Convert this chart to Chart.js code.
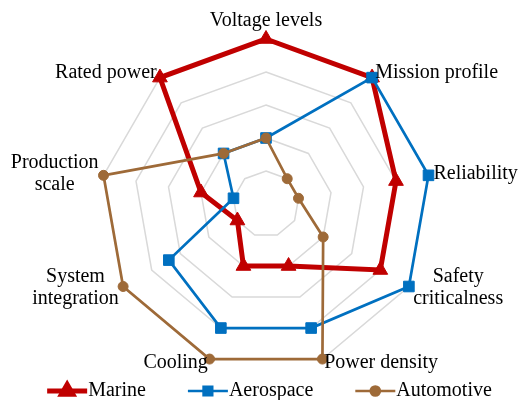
<!DOCTYPE html>
<html><head><meta charset="utf-8">
<script src="https://cdn.jsdelivr.net/npm/chart.js@4/dist/chart.umd.min.js"></script>
<style>html,body{margin:0;padding:0;background:#fff}#wrap{width:522px;height:400px}</style>
</head><body><div id="wrap"><canvas id="c" width="522" height="400"></canvas></div>
<script>
const categories = ['Voltage levels', 'Mission profile', 'Reliability', ['Safety', 'criticalness'], 'Power density', 'Cooling', ['System', 'integration'], ['Production', 'scale'], 'Rated power'];
const marine = [5, 5, 4, 4, 2, 2, 1, 2, 5];
const aerospace = [2, 5, 5, 5, 4, 4, 3.4, 1, 2];
const automotive = [2, 1, 1, 2, 5, 5, 5, 5, 2];
const seriesNames = ['Marine', 'Aerospace', 'Automotive'];
const scaleMin = 0, scaleMax = 5, scaleStep = 1;

const FONT = '20px "Liberation Serif", "Times New Roman", serif';

const axisLabelPlugin = {
  id: 'axisLabels',
  afterDraw(chart) {
    const s = chart.scales.r, ctx = chart.ctx;
    ctx.save();
    ctx.font = FONT; ctx.fillStyle = '#000'; ctx.textBaseline = 'middle'; ctx.textAlign = 'center';
    const lh = 22;
    chart.data.labels.forEach((lab, i) => {
      const lines = Array.isArray(lab) ? lab : [lab];
      const p = s.getPointPosition(i, s.drawingArea + 5);
      const deg = ((s.getIndexAngle(i) * 180 / Math.PI) % 360 + 360) % 360;
      const maxW = Math.max(...lines.map(l => ctx.measureText(l).width));
      let cx, cy;
      if (deg < 1 || deg > 359) { cx = p.x; cy = p.y - 13 - (lines.length - 1) * lh / 2; }
      else if (Math.abs(deg - 180) < 1) { cx = p.x; cy = p.y + 13 + (lines.length - 1) * lh / 2; }
      else if (deg < 180) { cx = p.x + maxW / 2; cy = p.y - 1; }
      else { cx = p.x - maxW / 2; cy = p.y - 1; }
      lines.forEach((l, k) => ctx.fillText(l, cx, cy + (k - (lines.length - 1) / 2) * lh));
    });
    ctx.restore();
  }
};

const legendPlugin = {
  id: 'lineLegend',
  afterDraw(chart) {
    const ctx = chart.ctx;
    ctx.save();
    ctx.font = FONT; ctx.textBaseline = 'middle'; ctx.textAlign = 'left';
    const ds = chart.data.datasets;
    const lineLen = 40, textGap = 1, itemGap = 42;
    const widths = ds.map(d => ctx.measureText(d.label).width);
    const total = widths.reduce((a, w) => a + lineLen + textGap + w, 0) + itemGap * (ds.length - 1);
    let x = chart.width / 2 + 8.5 - total / 2;
    const y = 391;
    ds.forEach((d, i) => {
      ctx.strokeStyle = d.borderColor; ctx.lineWidth = d.borderWidth;
      ctx.beginPath(); ctx.moveTo(x, y); ctx.lineTo(x + lineLen, y); ctx.stroke();
      ctx.fillStyle = d.pointBackgroundColor; ctx.strokeStyle = d.pointBorderColor;
      Chart.helpers.drawPoint(ctx, { pointStyle: d.pointStyle, radius: d.legendRadius, rotation: 0, borderWidth: 1 }, x + lineLen / 2, y);
      ctx.fillStyle = '#000';
      ctx.fillText(d.label, x + lineLen + textGap, y);
      x += lineLen + textGap + widths[i] + itemGap;
    });
    ctx.restore();
  }
};

const RED = '#C00000', BLUE = '#0070C0', BROWN = '#9E6A38';

new Chart(document.getElementById('c'), {
  type: 'radar',
  data: {
    labels: categories,
    datasets: [
      { label: seriesNames[0], data: marine, borderColor: RED, borderWidth: 5, fill: false,
        pointStyle: 'triangle', pointRadius: 8.5, pointBorderWidth: 1, pointBackgroundColor: RED, pointBorderColor: RED, legendRadius: 6.5, order: 3 },
      { label: seriesNames[1], data: aerospace, borderColor: BLUE, borderWidth: 2.7, fill: false,
        pointStyle: 'rect', pointRadius: 7.5, pointBorderWidth: 1, pointBackgroundColor: BLUE, pointBorderColor: BLUE, legendRadius: 6, order: 2 },
      { label: seriesNames[2], data: automotive, borderColor: BROWN, borderWidth: 2.7, fill: false,
        pointStyle: 'circle', pointRadius: 5, pointBorderWidth: 1, pointBackgroundColor: BROWN, pointBorderColor: BROWN, legendRadius: 4.5, order: 1 }
    ]
  },
  options: {
    responsive: false,
    animation: false,
    devicePixelRatio: 1,
    layout: { padding: { top: 39, bottom: 31, left: 10, right: 0 } },
    plugins: { legend: { display: false }, tooltip: { enabled: false } },
    elements: { line: { tension: 0 } },
    scales: {
      r: {
        min: scaleMin, max: scaleMax,
        ticks: { display: false, stepSize: scaleStep },
        grid: { color: '#d9d9d9', lineWidth: 1.5 },
        angleLines: { display: false },
        pointLabels: { display: false }
      }
    }
  },
  plugins: [axisLabelPlugin, legendPlugin]
});
</script>
</body></html>
